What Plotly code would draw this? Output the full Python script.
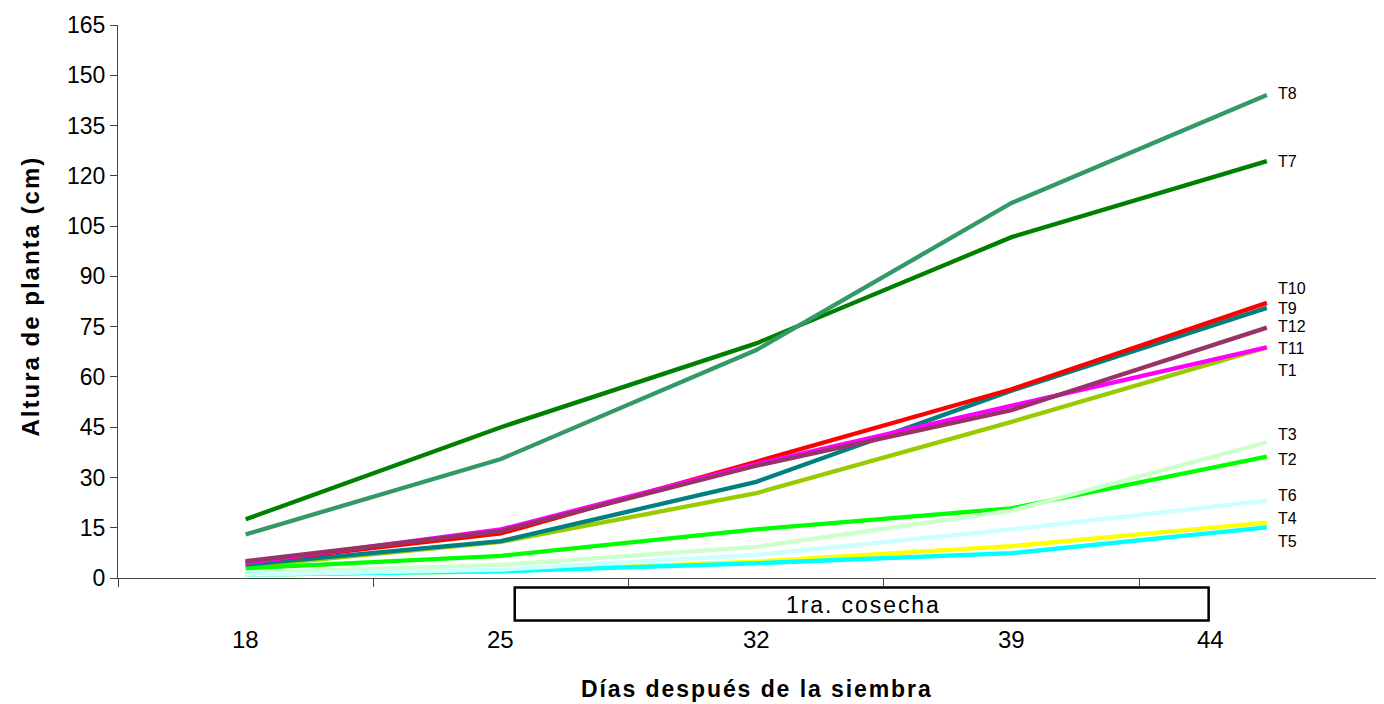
import plotly.graph_objects as go

days = ["18", "25", "32", "39", "44"]
series_names = ["T1", "T2", "T3", "T4", "T5", "T6", "T7", "T8", "T9", "T10", "T11", "T12"]
T1 = [3.5, 10.8, 25.3, 46.6, 68.8]
T2 = [2.9, 6.6, 14.5, 20.8, 36.2]
T3 = [1.5, 3.9, 9.3, 20.1, 40.5]
T4 = [1.0, 2.0, 4.9, 9.5, 16.5]
T5 = [1.0, 2.0, 4.4, 7.4, 15.1]
T6 = [1.0, 2.5, 6.9, 14.5, 23.1]
T7 = [17.5, 45.0, 70.0, 101.7, 124.4]
T8 = [13.0, 35.5, 68.0, 111.9, 144.1]
T9 = [4.0, 11.0, 28.7, 55.9, 80.6]
T10 = [4.6, 13.3, 34.7, 56.3, 82.1]
T11 = [4.5, 14.5, 34.0, 51.3, 68.8]
T12 = [5.0, 14.0, 33.5, 50.1, 74.7]
values = [T1, T2, T3, T4, T5, T6, T7, T8, T9, T10, T11, T12]
colors = ["#99CC00", "#00FF00", "#CCFFCC", "#FFFF00", "#00FFFF", "#CCFFFF",
          "#008000", "#339966", "#008080", "#FF0000", "#FF00FF", "#993366"]
# vertical position (data units) of the right-hand series labels
label_y = [61.8, 35.5, 42.7, 17.9, 11.0, 24.5, 124.4, 144.7, 80.3, 86.5, 68.4, 74.9]
y_ticks = list(range(0, 166, 15))

FONT = "Liberation Sans, Arial, sans-serif"


def spaced(s, sep="\u200a"):
    return sep.join(list(s))


xs = list(range(len(days)))

fig = go.Figure()
for name, vals, col in zip(series_names, values, colors):
    fig.add_trace(go.Scatter(x=xs, y=vals, mode="lines", name=name,
                             line=dict(color=col, width=4.3), showlegend=False))

ann = []
for name, ly in zip(series_names, label_y):
    ann.append(dict(x=xs[-1], y=ly, xref="x", yref="y", text=name, showarrow=False,
                    xanchor="left", yanchor="middle", xshift=9,
                    font=dict(family=FONT, size=16, color="#000")))

# day labels below the harvest box
shifts = [0, 0, 0, 0, -56]
for i, (d, s) in enumerate(zip(days, shifts)):
    ann.append(dict(x=xs[i], y=-0.112, xref="x", yref="paper", text=d, showarrow=False,
                    xanchor="center", yanchor="middle", xshift=s,
                    font=dict(family=FONT, size=24, color="#000")))

ann.append(dict(x=0.5, xref="paper", y=-0.2, yref="paper", showarrow=False,
                xanchor="center", yanchor="middle", xshift=5,
                text="<b>" + spaced("Días después de la siembra") + "</b>",
                font=dict(family=FONT, size=23, color="#000")))
ann.append(dict(x=0, xref="paper", y=0.5, yref="paper", showarrow=False, textangle=-90,
                xanchor="center", yanchor="middle", xshift=-88, yshift=4,
                text="<b>" + spaced("Altura de planta (cm)") + "</b>",
                font=dict(family=FONT, size=24, color="#000")))
ann.append(dict(x=2.417, xref="x", y=-0.049, yref="paper", showarrow=False,
                xanchor="center", yanchor="middle",
                text=spaced("1ra. cosecha"), font=dict(family=FONT, size=23, color="#000")))

# the page body has an 8px margin, so the figure is reduced by 8px on each axis
fig.update_layout(
    width=1376, height=696,
    margin=dict(l=110, r=0, t=17, b=126),
    plot_bgcolor="white", paper_bgcolor="white",
    annotations=ann,
    shapes=[dict(type="rect", xref="x", yref="paper", x0=1.054, x1=3.772,
                 y0=-0.077, y1=-0.017, line=dict(color="black", width=2.5),
                 fillcolor="white", layer="below")],
    xaxis=dict(range=[-0.5, -0.5 + 1266 / 255.3], showgrid=False, zeroline=False,
               showline=True, linecolor="#444", linewidth=1, automargin=False,
               tickmode="array", tickvals=[i - 0.5 for i in range(6)],
               ticktext=["" for _ in range(6)], ticks="outside", ticklen=8,
               tickcolor="#444"),
    yaxis=dict(range=[0, 165], showgrid=False, zeroline=False, showline=True,
               linecolor="#444", linewidth=1, tickmode="array", tickvals=y_ticks,
               ticks="outside", ticklen=7, tickcolor="#444", automargin=False,
               tickfont=dict(family=FONT, size=23, color="#000")),
)

fig.write_html("out.html")
